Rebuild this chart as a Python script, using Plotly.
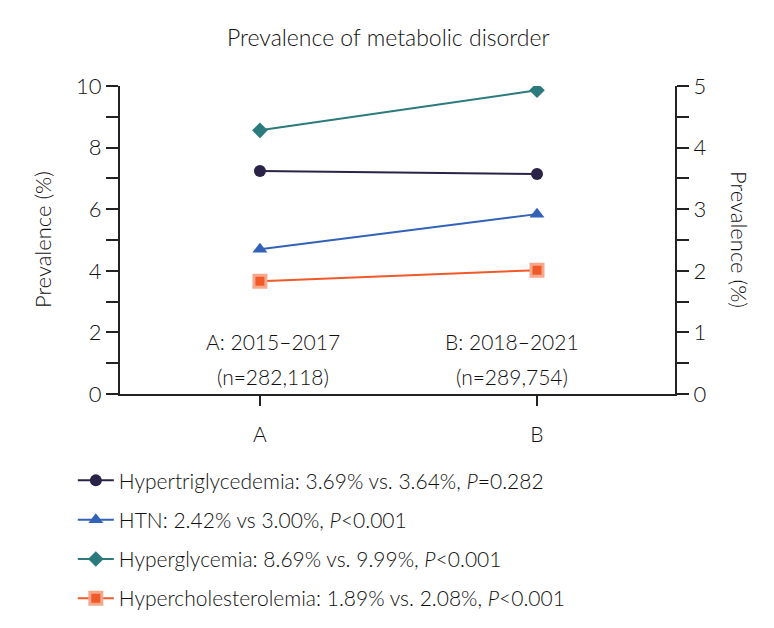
import plotly.graph_objects as go

categories = ["A", "B"]
hypertrig = [3.62, 3.57]      # right axis (%)
htn = [2.35, 2.92]            # right axis (%)
hyperglycemia = [8.56, 9.86]  # left axis (%)
hyperchol = [1.83, 2.01]      # right axis (%)

names = [
    "Hypertriglycedemia: 3.69% vs. 3.64%, <i>P</i>=0.282",
    "HTN: 2.42% vs 3.00%, <i>P</i><0.001",
    "Hyperglycemia: 8.69% vs. 9.99%, <i>P</i><0.001",
    "Hypercholesterolemia: 1.89% vs. 2.08%, <i>P</i><0.001",
]
period_labels = ["A: 2015\u20132017", "B: 2018\u20132021"]
n_labels = ["(n=282,118)", "(n=289,754)"]

FONT = "Lato"
W = 300
TXT = "#111111"
AX = "#222222"

fig = go.Figure()
fig.add_trace(go.Scatter(x=categories, y=hypertrig, yaxis="y2", name=names[0], legendgroup="g1",
                         mode="lines+markers", line=dict(color="#2a2347", width=2),
                         marker=dict(symbol="circle", size=12, color="#2a2347")))
fig.add_trace(go.Scatter(x=categories, y=htn, yaxis="y2", name=names[1], legendgroup="g2",
                         mode="lines+markers", line=dict(color="#3262b8", width=2),
                         marker=dict(symbol="triangle-up", size=13, color="#3262b8")))
fig.add_trace(go.Scatter(x=categories, y=hyperglycemia, yaxis="y", name=names[2], legendgroup="g3",
                         mode="lines+markers", line=dict(color="#2b7a7d", width=2),
                         marker=dict(symbol="diamond", size=12, color="#2b7a7d")))
fig.add_trace(go.Scatter(x=categories, y=hyperchol, yaxis="y2", name=names[3], legendgroup="g4",
                         mode="lines+markers", line=dict(color="#f05a28", width=2),
                         marker=dict(symbol="square", size=12, color="#f05a28",
                                     line=dict(color="#f6a88c", width=3))))

ann = []
ann.append(dict(text="Prevalence of metabolic disorder", xref="paper", yref="paper",
                x=0.483, y=(394 - 37) / 308, xanchor="center", yanchor="middle", showarrow=False,
                font=dict(family=FONT, size=23, color=TXT, weight=W)))
ann.append(dict(text="Prevalence (%)", xref="paper", yref="paper", x=-0.1405, y=0.5,
                xanchor="center", yanchor="middle", textangle=-90, showarrow=False,
                font=dict(family=FONT, size=22, color=TXT, weight=W)))
ann.append(dict(text="Prevalence (%)", xref="paper", yref="paper", x=1.117, y=0.5,
                xanchor="center", yanchor="middle", textangle=90, showarrow=False,
                font=dict(family=FONT, size=22, color=TXT, weight=W)))
for px, lab, nl in zip([273, 512], period_labels, n_labels):
    xp = (px - 120) / 555
    ann.append(dict(text=lab, xref="paper", yref="paper", x=xp, y=(394 - 341) / 308,
                    xanchor="center", yanchor="middle", showarrow=False,
                    font=dict(family=FONT, size=21, color=TXT, weight=W)))
    ann.append(dict(text=nl, xref="paper", yref="paper", x=xp, y=(394 - 376) / 308,
                    xanchor="center", yanchor="middle", showarrow=False,
                    font=dict(family=FONT, size=21, color=TXT, weight=W)))

# page body has an 8px margin, so figure coordinates are shifted by 8px
fig.update_layout(
    width=766, height=620,
    margin=dict(l=112, r=99, t=78, b=234, autoexpand=False),
    paper_bgcolor="white", plot_bgcolor="white",
    font=dict(family=FONT, size=21, color=TXT, weight=W),
    annotations=ann,
    showlegend=True,
    legend=dict(x=-0.085, y=-0.215, xanchor="left", yanchor="top", itemwidth=36,
                bgcolor="rgba(0,0,0,0)", tracegroupgap=9, traceorder="grouped",
                font=dict(family=FONT, size=21, color=TXT, weight=W)),
    xaxis=dict(type="category", range=[-0.505, 1.498], showline=True, linecolor=AX, linewidth=2,
               ticks="outside", ticklen=10, tickwidth=2, tickcolor=AX, showgrid=False,
               zeroline=False, ticklabelstandoff=11, tickfont=dict(size=21)),
    yaxis=dict(range=[0, 10], dtick=2, showline=True, linecolor=AX, linewidth=2,
               ticks="outside", ticklen=12, tickwidth=2, tickcolor=AX, showgrid=False,
               zeroline=False, tickfont=dict(size=22),
               minor=dict(dtick=1, ticks="outside", ticklen=12, tickwidth=2, tickcolor=AX)),
    yaxis2=dict(range=[0, 5], dtick=1, overlaying="y", side="right", anchor="x",
                showline=True, linecolor=AX, linewidth=2,
                ticks="outside", ticklen=12, tickwidth=2, tickcolor=AX, showgrid=False,
                zeroline=False, tickfont=dict(size=22),
                minor=dict(dtick=0.5, ticks="outside", ticklen=12, tickwidth=2, tickcolor=AX)),
)

fig.write_html("out.html")
